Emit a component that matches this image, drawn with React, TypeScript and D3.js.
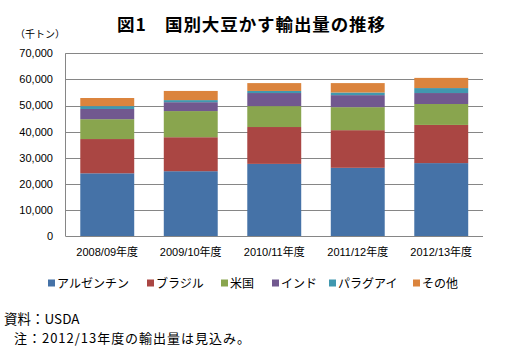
import React from "react";
import * as d3 from "d3";

const categories = ["2008/09年度", "2009/10年度", "2010/11年度", "2011/12年度", "2012/13年度"];
const seriesNames = ["アルゼンチン", "ブラジル", "米国", "インド", "パラグアイ", "その他"];
const argentina = [24100, 24900, 27700, 26200, 28000];
const brazil = [13100, 13000, 14100, 14400, 14600];
const usa = [7600, 10000, 8000, 8800, 8000];
const india = [3900, 3400, 5000, 4600, 4200];
const paraguay = [1100, 800, 800, 1000, 1900];
const others = [3100, 3500, 3000, 3600, 3900];
const yTicks = [0, 10000, 20000, 30000, 40000, 50000, 60000, 70000];
const colors = ["#4572A7", "#AA4643", "#89A54E", "#71588F", "#4198AF", "#DB843D"];

const W = 505;
const H = 347;
const M = { left: 65.5, right: 483, top: 53.3, bottom: 236.3 };

const FONT = "'Liberation Sans', 'Noto Sans CJK JP', sans-serif";
const JP = "'Noto Sans CJK JP', sans-serif";

export default function App() {
  const seriesValues = [argentina, brazil, usa, india, paraguay, others];
  const rows = categories.map((c, i) => {
    const r: any = { cat: c };
    seriesNames.forEach((s, k) => (r[s] = seriesValues[k][i]));
    return r;
  });
  const stack = d3.stack<any>().keys(seriesNames)(rows);

  const x = d3.scaleBand<string>().domain(categories).range([M.left, M.right]).paddingInner(0.354).paddingOuter(0.177);
  const y = d3.scaleLinear().domain([0, 70000]).range([M.bottom, M.top]);
  const fmt = d3.format(",");

  const legendX = [48, 147, 221, 272, 329, 413];

  return (
    <svg width={W} height={H} style={{ position: "absolute", left: 0, top: 0, background: "#fff" }}>
      <text x={117} y={30.5} fontFamily={JP} fontWeight="bold" fontSize={17.5} textLength={268} lengthAdjust="spacing">
        図1　国別大豆かす輸出量の推移
      </text>
      <text x={15} y={38} fontFamily={JP} fontSize={10}>（千トン）</text>
      {yTicks.map((t) => (
        <g key={t}>
          {t > 0 && (
            <line x1={M.left} x2={M.right} y1={Math.round(y(t)) + 0.5} y2={Math.round(y(t)) + 0.5} stroke="#868686" strokeWidth={1} />
          )}
          <text x={53} y={y(t)} dy="0.35em" textAnchor="end" fontFamily={FONT} fontSize={11}>
            {fmt(t)}
          </text>
        </g>
      ))}
      {stack.map((s, k) =>
        s.map((d, i) => (
          <rect
            key={k + "-" + i}
            x={x(categories[i])}
            width={x.bandwidth()}
            y={y(d[1])}
            height={y(d[0]) - y(d[1])}
            fill={colors[k]}
          />
        ))
      )}
      <line x1={M.left} x2={M.left} y1={M.top} y2={M.bottom} stroke="#868686" strokeWidth={1} />
      <line x1={M.left} x2={M.right} y1={Math.round(M.bottom) + 0.5} y2={Math.round(M.bottom) + 0.5} stroke="#868686" strokeWidth={1} />
      {categories.map((c) => (
        <text key={c} x={(x(c) as number) + x.bandwidth() / 2} y={256} textAnchor="middle" fontFamily={FONT} fontSize={11}>
          {c}
        </text>
      ))}
      {seriesNames.map((n, k) => (
        <g key={n}>
          <rect x={legendX[k]} y={279.5} width={7} height={7} fill={colors[k]} />
          <text x={legendX[k] + 9} y={287.5} fontFamily={JP} fontSize={12}>
            {n}
          </text>
        </g>
      ))}
      <text x={4} y={324} fontFamily={JP} fontSize={13.5}>資料：USDA</text>
      <text x={14} y={343} fontFamily={JP} fontSize={13} textLength={236} lengthAdjust="spacing">
        注：2012/13年度の輸出量は見込み。
      </text>
    </svg>
  );
}
